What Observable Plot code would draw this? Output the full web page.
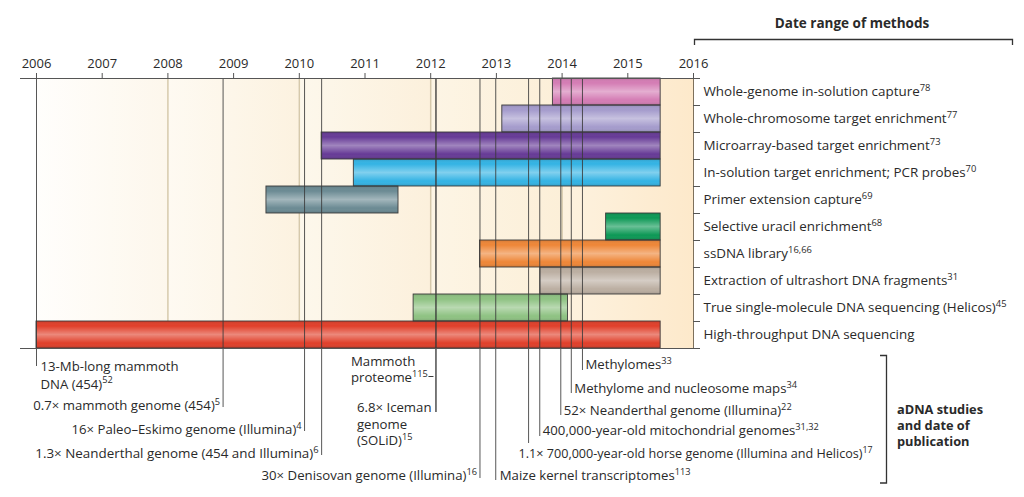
<!DOCTYPE html>
<html><head><meta charset="utf-8">
<script src="https://cdn.jsdelivr.net/npm/d3@7"></script>
<script src="https://cdn.jsdelivr.net/npm/@observablehq/plot@0.6"></script>
<style>
body{margin:0;background:#fff;}
#chart svg{display:block;}
</style></head><body><div id="chart"></div>
<script>
// ---------- data ----------
const methods = [
  "Whole-genome in-solution capture",
  "Whole-chromosome target enrichment",
  "Microarray-based target enrichment",
  "In-solution target enrichment; PCR probes",
  "Primer extension capture",
  "Selective uracil enrichment",
  "ssDNA library",
  "Extraction of ultrashort DNA fragments",
  "True single-molecule DNA sequencing (Helicos)",
  "High-throughput DNA sequencing"
];
const methodRefs = ["78", "77", "73", "70", "69", "68", "16,66", "31", "45", ""];
const methodStart = [2013.86, 2013.09, 2010.34, 2010.83, 2009.5, 2014.67, 2012.75, 2013.67, 2011.74, 2006.0];
const methodEnd = [2015.5, 2015.5, 2015.5, 2015.5, 2011.51, 2015.5, 2015.5, 2015.5, 2014.09, 2015.5];
const methodColors = ["#d47cb4", "#a49bcc", "#663a96", "#33b3e4", "#6b8a93", "#0c9855", "#ee8637", "#bbaea1", "#8ec282", "#e03f2a"];

const years = [2006, 2007, 2008, 2009, 2010, 2011, 2012, 2013, 2014, 2015, 2016];
const gridYears = [2008, 2010, 2012, 2014];

const studies = [
  "13-Mb-long mammoth\nDNA (454)",
  "0.7× mammoth genome (454)",
  "16× Paleo–Eskimo genome (Illumina)",
  "1.3× Neanderthal genome (454 and Illumina)",
  "Mammoth\nproteome",
  "6.8× Iceman\ngenome\n(SOLiD)",
  "30× Denisovan genome (Illumina)",
  "Maize kernel transcriptomes",
  "1.1× 700,000-year-old horse genome (Illumina and Helicos)",
  "400,000-year-old mitochondrial genomes",
  "52× Neanderthal genome (Illumina)",
  "Methylome and nucleosome maps",
  "Methylomes"
];
const studyRefs = ["52", "5", "4", "6", "115", "15", "16", "113", "17", "31,32", "22", "34", "33"];
const studyYears = [2006.0, 2008.84, 2010.08, 2010.34, 2012.08, 2012.08, 2012.75, 2012.99, 2013.49, 2013.66, 2013.98, 2014.14, 2014.31];

// ---------- layout (pixels) ----------
const W = 1024, H = 497, TOP = 78, ROW = 27;
const py = px => (px - TOP) / ROW;
const labelCenter = [373.5, 405.5, 429, 453, 368, 423, 475, 475, 453, 430, 410, 388, 364];
const labelAnchor = ["start", "end", "end", "end", "start", "start", "end", "start", "start", "start", "start", "start", "start"];
const labelDx = [4, -3, -3, -3, -85, -79, -3, 4, -10, 3, 3, 3, 3];
const labelSize = [13.2, 13.2, 13.2, 13.4, 13.2, 13.2, 13.2, 13.2, 12.6, 13.2, 13.2, 13.2, 13.2];
const labelLead = [1.34, 1, 1, 1, 1.22, 1.26, 1, 1, 1, 1, 1, 1, 1];
const lineEnd = [366, 407, 431, 455, 412, 412, 478, 480, 443, 436, 415, 393, 370];

const rows = methods.map((m, i) => ({
  label: methodRefs[i] ? m + "^" + methodRefs[i] : m,
  start: methodStart[i], end: methodEnd[i], color: methodColors[i], row: i
}));
const st = studies.map((s, i) => ({
  label: s + "^" + studyRefs[i], year: studyYears[i],
  cy: py(labelCenter[i]), anchor: labelAnchor[i], dx: labelDx[i], size: labelSize[i],
  lead: labelLead[i], end: py(lineEnd[i])
}));
const bands = gridYears.map((g, i) => ({x1: g - 2, x2: g, i})).concat([{x1: 2014, x2: 2016, i: 4}]);

const font = "'Open Sans', sans-serif";
const txt = "#2a2a2a";
const FS = 13.4;

// label marks grouped by anchor/dx/size/leading
const groups = d3.groups(st, d => [d.anchor, d.dx, d.size, d.lead].join("|"));
const labelMarks = groups.map(([key, arr]) => Plot.text(arr, {
  x: "year", y: "cy", text: "label",
  textAnchor: arr[0].anchor, dx: arr[0].dx, lineHeight: arr[0].lead,
  fontSize: arr[0].size, fill: txt
}));

const decor = () => {
  const g = d3.create("svg:g");
  const p = g.append("g").attr("fill", "none").attr("stroke", "#333").attr("stroke-width", 1.3);
  p.append("path").attr("d", "M694.5,45V39.5H1012.5V45");
  p.append("path").attr("d", "M880,355.5H886.5V483H880");
  g.append("text").attr("x", 852).attr("y", 23).attr("dy", "0.35em")
    .attr("text-anchor", "middle").attr("font-weight", "bold").attr("font-size", 13.5)
    .attr("fill", txt).text("Date range of methods");
  const t = g.append("text").attr("font-weight", "bold").attr("font-size", 12.8)
    .attr("text-anchor", "start").attr("fill", txt);
  ["aDNA studies", "and date of", "publication"].forEach((s, i) =>
    t.append("tspan").attr("x", 897).attr("y", 410 + i * 16).attr("dy", "0.35em").text(s));
  return g.node();
};

const chart = Plot.plot({
  width: W, height: H,
  marginLeft: 36, marginRight: W - 693, marginTop: TOP, marginBottom: 0,
  x: {domain: [2006, 2016]},
  y: {domain: [0, (H - TOP) / ROW], range: [TOP, H], axis: null},
  color: {type: "identity"},
  style: {fontFamily: font, fontSize: FS + "px", color: txt, background: "#fff", overflow: "visible"},
  marks: [
    Plot.rect(bands, {x1: "x1", x2: "x2", y1: 0, y2: 10, fill: d => `url(#band${d.i})`}),
    Plot.ruleX(gridYears, {y1: 0, y2: 10, stroke: "#d6c9ab", strokeWidth: 1.5}),
    Plot.rect(rows, {x1: "start", x2: "end", y1: d => d.row, y2: d => d.row + 1, fill: "color"}),
    Plot.rect(rows, {x1: "start", x2: "end", y1: d => d.row, y2: d => d.row + 1, fill: () => "url(#shine)", stroke: "#3c3c3c", strokeWidth: 0.9}),
    Plot.ruleX(st, {x: "year", y1: 0, y2: "end", stroke: "#3a3a3a", strokeWidth: 1, strokeOpacity: 0.85}),
    Plot.ruleY([{}], {x1: 2012.08, x2: 2012.08, y: py(376), insetLeft: -7, insetRight: 2, stroke: "#3a3a3a"}),
    Plot.ruleX([2016], {y1: 0, y2: 10, stroke: "#7d705c", strokeWidth: 1}),
    Plot.ruleY(d3.range(0, 11), {x1: 2016, x2: 2016, insetRight: -7, stroke: "#555"}),
    Plot.ruleY([0, 10], {insetLeft: -16, insetRight: -7, stroke: "#555", strokeWidth: 1.2}),
    Plot.axisX(years, {anchor: "top", tickSize: 6, tickPadding: 5, tickFormat: "d", fontSize: 13, stroke: "#555", fill: txt}),
    Plot.text(rows, {x: 2016, y: d => d.row + 0.5, text: "label", textAnchor: "start", dx: 10, fontSize: FS, fill: txt}),
    ...labelMarks,
    decor
  ]
});

// gradients
const svg = d3.select(chart);
const defs = svg.insert("defs", ":first-child");
const bandStops = [["#fffefc", "#fdf7ec"], ["#fefaf2", "#fcf2e0"], ["#fdf8ec", "#fcf0dc"], ["#fdf5e5", "#fcefd8"], ["#fdf2df", "#fde9cb"]];
bandStops.forEach(([a, b], i) => {
  const lg = defs.append("linearGradient").attr("id", "band" + i).attr("x1", 0).attr("x2", 1).attr("y1", 0).attr("y2", 0);
  lg.append("stop").attr("offset", 0).attr("stop-color", a);
  lg.append("stop").attr("offset", 1).attr("stop-color", b);
});
const sh = defs.append("linearGradient").attr("id", "shine").attr("x1", 0).attr("x2", 0).attr("y1", 0).attr("y2", 1);
[[0, "#000", 0.12], [0.18, "#fff", 0.0], [0.5, "#fff", 0.38], [0.82, "#fff", 0.0], [1, "#000", 0.14]].forEach(([o, c, op]) =>
  sh.append("stop").attr("offset", o).attr("stop-color", c).attr("stop-opacity", op));

// superscripts
const walker = document.createTreeWalker(chart, NodeFilter.SHOW_TEXT);
const nodes = [];
while (walker.nextNode()) if (walker.currentNode.nodeValue.includes("^")) nodes.push(walker.currentNode);
for (const n of nodes) {
  const [a, b] = n.nodeValue.split("^");
  n.nodeValue = a;
  const t = document.createElementNS("http://www.w3.org/2000/svg", "tspan");
  t.setAttribute("dy", "-0.55em");
  t.setAttribute("style", "font-size:0.7em");
  t.textContent = b;
  n.parentNode.insertBefore(t, n.nextSibling);
}

document.getElementById("chart").appendChild(chart);
</script>
</body></html>
